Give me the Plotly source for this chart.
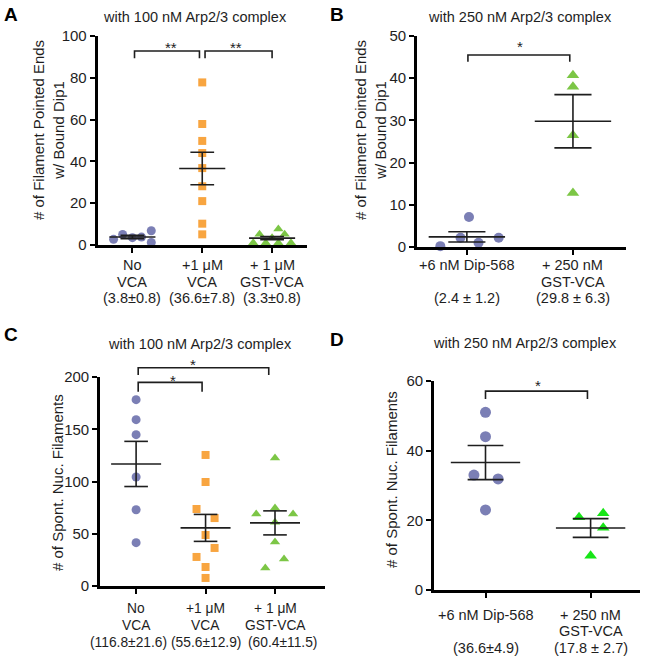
import plotly.graph_objects as go

W, H = 649, 656
FONT = "Arial, 'Liberation Sans', Helvetica, sans-serif"
INK = "#1e1e1e"
PURPLE = "#7b7fb5"
ORANGE = "#f8a540"
GREEN = "#7cc646"
BRIGHT = "#17e517"

# ---------------- data ----------------
# Panel A: pointed ends with bound Dip1, 100 nM Arp2/3
a_labels = [["No", "VCA", "(3.8±0.8)"], ["+1 μM", "VCA", "(36.6±7.8)"], ["+ 1 μM", "GST-VCA", "(3.3±0.8)"]]
a_novca = [2.7, 5.0, 3.5, 3.8, 6.8, 1.2]
a_novca_jit = [-0.27, -0.14, 0.0, 0.13, 0.27, 0.27]
a_vca = [5.1, 10.2, 21.0, 28.1, 36.8, 44.0, 49.8, 57.9, 77.8]
a_vca_jit = [0, 0, 0, 0, 0, 0, 0, 0, 0]
a_gst = [1.1, 5.2, 1.1, 3.5, 7.6, 1.1, 5.2, 1.1]
a_gst_jit = [-0.27, -0.18, -0.09, 0.0, 0.09, 0.09, 0.18, 0.27]
a_mean = [3.8, 36.6, 3.3]
a_sem = [0.8, 7.8, 0.8]

# Panel B: pointed ends with bound Dip1, 250 nM Arp2/3
b_labels = [["+6 nM Dip-568", "", "(2.4 ± 1.2)"], ["+ 250 nM", "GST-VCA", "(29.8 ± 6.3)"]]
b_dip = [0.2, 2.2, 7.1, 1.0, 2.2]
b_dip_jit = [-0.25, -0.06, 0.02, 0.11, 0.30]
b_gst = [40.7, 38.0, 26.5, 12.8]
b_gst_jit = [0, 0, 0, 0]
b_mean = [2.4, 29.8]
b_sem = [1.2, 6.3]

# Panel C: spontaneously nucleated filaments, 100 nM Arp2/3
c_labels = [["No", "VCA", "(116.8±21.6)"], ["+1 μM", "VCA", "(55.6±12.9)"], ["+ 1 μM", "GST-VCA", "(60.4±11.5)"]]
c_novca = [178.3, 159.2, 144.8, 104.3, 73.0, 41.5]
c_novca_jit = [0, 0, 0, 0, 0, 0]
c_vca = [125.4, 99.5, 73.7, 65.0, 48.8, 36.4, 27.8, 18.2, 7.7]
c_vca_jit = [0, 0, -0.13, 0.13, 0, 0.13, -0.13, 0, 0]
c_gst = [122.5, 69.0, 74.6, 69.0, 61.0, 42.0, 25.8, 17.2]
c_gst_jit = [0, -0.27, 0, 0.26, 0, 0, 0.13, -0.14]
c_mean = [116.8, 55.6, 60.4]
c_sem = [21.6, 12.9, 11.5]

# Panel D: spontaneously nucleated filaments, 250 nM Arp2/3
d_labels = [["+6 nM Dip-568", "", "(36.6±4.9)"], ["+ 250 nM", "GST-VCA", "(17.8 ± 2.7)"]]
d_dip = [51.0, 44.0, 33.0, 31.9, 23.0]
d_dip_jit = [0, 0, -0.11, 0.12, 0]
d_gst = [20.9, 22.0, 17.9, 9.8]
d_gst_jit = [-0.11, 0.12, 0.12, 0]
d_mean = [36.6, 17.8]
d_sem = [4.9, 2.7]

# ---------------- layout helpers ----------------
def px(p):
    return p / W

def py(p):
    return 1 - p / H

fig = go.Figure()

panels = {
    "A": dict(ax="x", ay="y", xd=(97.5, 307), yd=(245, 36), xr=[-0.5, 2.5], ymax=100, dtick=20,
              lab_y=265, lab_dy=16.7, lab_size=14.5, last_shift=[0, 0, 0]),
    "B": dict(ax="x2", ay="y2", xd=(417, 626), yd=(247, 36), xr=[-0.47, 1.5], ymax=50, dtick=10,
              lab_y=265, lab_dy=16.7, lab_size=14.5, last_shift=[0, 0]),
    "C": dict(ax="x3", ay="y3", xd=(100, 325), yd=(586, 377), xr=[-0.52, 2.72], ymax=200, dtick=50,
              lab_y=608.5, lab_dy=17.2, lab_size=13.8, last_shift=[-8, 0, 7]),
    "D": dict(ax="x4", ay="y4", xd=(434, 640), yd=(590, 381), xr=[-0.49, 1.47], ymax=60, dtick=20,
              lab_y=615, lab_dy=16.4, lab_size=14.5, last_shift=[0, 0]),
}
label_map = {"A": a_labels, "B": b_labels, "C": c_labels, "D": d_labels}

for name, p in panels.items():
    xkey = "xaxis" + p["ax"][1:]
    ykey = "yaxis" + p["ay"][1:]
    labels = label_map[name]
    fig.update_layout({
        xkey: dict(
            domain=[px(p["xd"][0]), px(p["xd"][1])], range=p["xr"], anchor=p["ay"],
            showline=True, linewidth=2.6, linecolor="black", ticks="outside",
            ticklen=5, tickwidth=2.2, tickcolor="black", showgrid=False, zeroline=False,
            tickmode="array", tickvals=list(range(len(labels))),
            ticktext=[" ".join(l for l in lines if l) for lines in labels],
            showticklabels=False, fixedrange=True, automargin=False,
        ),
        ykey: dict(
            domain=[py(p["yd"][0]), py(p["yd"][1])], range=[0, p["ymax"]], anchor=p["ax"],
            showline=True, linewidth=2.6, linecolor="black", ticks="outside",
            ticklen=5, tickwidth=2.2, tickcolor="black", showgrid=False, zeroline=False,
            dtick=p["dtick"], tick0=0, tickfont=dict(family=FONT, size=15, color=INK),
            fixedrange=True, automargin=False,
        ),
    })
    # multi-line category labels under the x axis
    for cat, lines in enumerate(labels):
        for k, line in enumerate(lines):
            if not line:
                continue
            fig.add_annotation(
                x=cat, xref=p["ax"], y=py(p["lab_y"] + k * p["lab_dy"]), yref="paper",
                xshift=p["last_shift"][cat] if k == 2 else 0,
                text=line, showarrow=False, xanchor="center", yanchor="middle",
                font=dict(family=FONT, size=p["lab_size"], color=INK),
            )


def add_points(panel, cat, vals, jit, color, symbol, size):
    p = panels[panel]
    fig.add_trace(go.Scatter(
        x=[cat + j for j in jit], y=vals, mode="markers", xaxis=p["ax"], yaxis=p["ay"],
        marker=dict(color=color, symbol=symbol, size=size, line=dict(width=0)),
        cliponaxis=False, showlegend=False, hoverinfo="y",
    ))


def add_mean_sem(panel, means, sems, half=0.34, cap=0.17):
    p = panels[panel]
    xs, ys = [], []
    for c, (m, s) in enumerate(zip(means, sems)):
        xs += [c - half, c + half, None, c, c, None, c - cap, c + cap, None, c - cap, c + cap, None]
        ys += [m, m, None, m - s, m + s, None, m + s, m + s, None, m - s, m - s, None]
    fig.add_trace(go.Scatter(
        x=xs, y=ys, mode="lines", xaxis=p["ax"], yaxis=p["ay"],
        line=dict(color=INK, width=1.6), showlegend=False, hoverinfo="skip",
    ))


def add_bracket(panel, x0, x1, level, drop, star, star_x, star_y):
    # significance bracket, placed in axis-domain units so it may extend above the axis top
    p = panels[panel]
    r0, r1 = p["xr"]
    ymax = p["ymax"]
    fx = lambda v: (v - r0) / (r1 - r0)
    fy = lambda v: v / ymax
    pts = [(x0, level - drop), (x0, level), (x1, level), (x1, level - drop)]
    path = "M " + " L ".join(f"{fx(x):.5f},{fy(y):.5f}" for x, y in pts)
    fig.add_shape(type="path", path=path, xref=p["ax"] + " domain", yref=p["ay"] + " domain",
                  line=dict(color=INK, width=1.6))
    fig.add_annotation(x=fx(star_x), y=fy(star_y), xref=p["ax"] + " domain",
                       yref=p["ay"] + " domain", text=star,
                       showarrow=False, font=dict(family=FONT, size=15, color=INK),
                       xanchor="center", yanchor="middle")


# Panel A
add_points("A", 0, a_novca, a_novca_jit, PURPLE, "circle", 9)
add_points("A", 1, a_vca, a_vca_jit, ORANGE, "square", 8)
add_points("A", 2, a_gst, a_gst_jit, GREEN, "triangle-up", 9)
add_mean_sem("A", a_mean, a_sem, half=0.33, cap=0.17)
add_bracket("A", 0.03, 0.96, 92.8, 3.5, "**", 0.55, 94.7)
add_bracket("A", 1.04, 2.0, 92.8, 3.5, "**", 1.49, 94.7)

# Panel B
add_points("B", 0, b_dip, b_dip_jit, PURPLE, "circle", 10)
add_points("B", 1, b_gst, b_gst_jit, GREEN, "triangle-up", 11)
add_mean_sem("B", b_mean, b_sem, half=0.36, cap=0.175)
add_bracket("B", 0.01, 0.97, 45.5, 1.6, "*", 0.5, 47.4)

# Panel C
add_points("C", 0, c_novca, c_novca_jit, PURPLE, "circle", 9)
add_points("C", 1, c_vca, c_vca_jit, ORANGE, "square", 8)
add_points("C", 2, c_gst, c_gst_jit, GREEN, "triangle-up", 9)
add_mean_sem("C", c_mean, c_sem, half=0.36, cap=0.17)
add_bracket("C", 0.03, 1.91, 208.9, 7.0, "*", 0.82, 212.0)
add_bracket("C", 0.03, 0.95, 194.9, 8.9, "*", 0.53, 196.7)

# Panel D
add_points("D", 0, d_dip, d_dip_jit, PURPLE, "circle", 11)
add_points("D", 1, d_gst, d_gst_jit, BRIGHT, "triangle-up", 11)
add_mean_sem("D", d_mean, d_sem, half=0.33, cap=0.17)
add_bracket("D", 0.0, 0.97, 57.1, 2.3, "*", 0.5, 58.7)

# Titles, panel letters, y-axis titles
texts = [
    ("with 100 nM Arp2/3 complex", 195, 17, 14.5, False, 0),
    ("with 250 nM Arp2/3 complex", 520, 17, 14.5, False, 0),
    ("with 100 nM Arp2/3 complex", 200, 344, 14.5, False, 0),
    ("with 250 nM Arp2/3 complex", 525, 343, 14.5, False, 0),
    ("A", 11, 14, 19, True, 0),
    ("B", 337, 14, 19, True, 0),
    ("C", 11, 334, 19, True, 0),
    ("D", 337, 339, 19, True, 0),
    ("# of Filament Pointed Ends<br>w/ Bound Dip1", 48, 130, 15, False, -90),
    ("# of Filament Pointed Ends<br>w/ Bound Dip1", 370, 130, 15, False, -90),
    ("# of Spont. Nuc. Filaments", 57, 483, 15, False, -90),
    ("# of Spont. Nuc. Filaments", 391, 480, 15, False, -90),
]
for t, x, y, s, bold, ang in texts:
    fig.add_annotation(
        x=px(x), y=py(y), xref="paper", yref="paper",
        text=f"<b>{t}</b>" if bold else t, showarrow=False, textangle=ang,
        font=dict(family=FONT, size=s, color="black" if bold else INK),
        xanchor="center", yanchor="middle",
    )

fig.update_layout(
    width=W, height=H, autosize=False,
    margin=dict(l=0, r=0, t=0, b=0, pad=0, autoexpand=False),
    paper_bgcolor="white", plot_bgcolor="white",
    showlegend=False, hovermode=False,
)

fig.write_html(
    "out.html",
    config={"displayModeBar": False, "staticPlot": False},
    post_script=(
        "document.body.style.margin='0px';"
        "document.body.style.padding='0px';"
        "document.documentElement.style.overflow='hidden';"
    ),
)
